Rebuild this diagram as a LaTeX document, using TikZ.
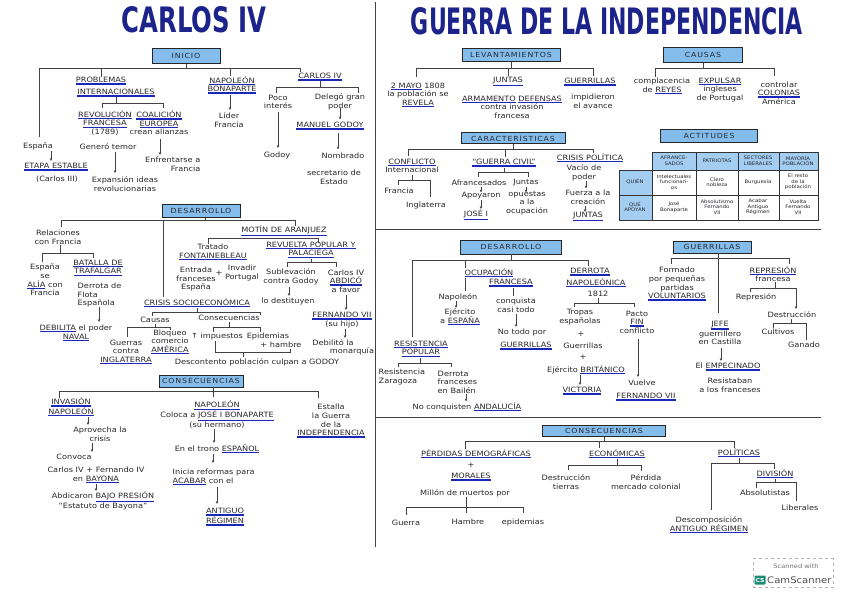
\documentclass[tikz,border=0pt]{standalone}
\usepackage{fontspec}
\setmainfont{DejaVu Sans}[FakeStretch=1.12]
\usetikzlibrary{arrows.meta}
\definecolor{ink}{RGB}{40,40,45}
\definecolor{ublue}{RGB}{25,40,185}
\definecolor{tblue}{RGB}{28,36,140}
\definecolor{boxblue}{RGB}{132,188,236}
\definecolor{lnc}{RGB}{65,65,70}
\definecolor{csgreen}{RGB}{25,140,115}
\newsavebox\ulbx
\newcommand\blu[1]{\sbox\ulbx{#1}\vtop{\hbox{\usebox\ulbx}\nointerlineskip\kern0.6pt\hbox{\color{ublue}\rule{\wd\ulbx}{1.4pt}}}}
\tikzset{
 t/.style={font=\fontsize{7.3}{8.6}\selectfont, text=ink, inner sep=0.5pt, align=center},
 hdr/.style={draw=black!85, line width=0.7pt, fill=boxblue, font=\fontsize{7}{8}\selectfont\addfontfeature{LetterSpace=12}, text=ink, inner sep=1pt},
 ln/.style={draw=lnc, line width=0.6pt},
 ar/.style={ln, -{Stealth[length=3pt,width=2.6pt]}},
 tb/.style={font=\fontsize{4.8}{5.5}\selectfont, text=ink, align=center, inner sep=0pt},
 dv/.style={draw=lnc, line width=0.8pt},
}
\begin{document}
\begin{tikzpicture}[x=1pt,y=-1pt]
\useasboundingbox (0,0) rectangle (848,599);
\fill[white] (0,0) rectangle (848,599);
% titles
\node[inner sep=0, text=tblue] (t1) at (194,20) {\resizebox{145pt}{26pt}{\bfseries CARLOS IV}};
\node[inner sep=0, text=tblue] (t2) at (607,21) {\resizebox{392pt}{27pt}{\bfseries GUERRA DE LA INDEPENDENCIA}};
% dividers
\draw[dv] (375,2) -- (375,547);
\draw[dv] (376,229) -- (821,229);
\draw[dv] (376,417) -- (821,417);

% ===== LEFT: INICIO =====
\node[hdr, minimum width=68pt, minimum height=15pt] (inicio) at (186,56) {INICIO};
\node[t] (prob1) at (101,81) {\blu{PROBLEMAS}};
\node[t] (prob2) at (116,93) {\blu{INTERNACIONALES}};
\node[t] (revf) at (105,123) {\blu{REVOLUCIÓN}\\\blu{FRANCESA}\\(1789)};
\node[t] (coal) at (159,123) {\blu{COALICIÓN}\\\blu{EUROPEA}\\crean alianzas};
\node[t] (napb) at (232,85) {\blu{NAPOLEÓN}\\\blu{BONAPARTE}};
\node[t] (lider) at (229,120) {Líder\\Francia};
\node[t] (c4) at (320,77) {\blu{CARLOS IV}};
\node[t] (poco) at (278,102) {Poco\\interés};
\node[t] (deleg) at (340,102) {Delegó gran\\poder};
\node[t] (mgod) at (330,126) {\blu{MANUEL GODOY}};
\node[t] (godoy) at (277,155) {Godoy};
\node[t] (nomb) at (343,156) {Nombrado};
\node[t] (secr) at (334,177) {secretario de\\Estado};
\node[t] (esp) at (38,146) {España};
\node[t] (etapa) at (56,167) {\blu{ETAPA ESTABLE}};
\node[t] (c3) at (57,179) {(Carlos III)};
\node[t] (temor) at (108,147) {Generó temor};
\node[t] (expa) at (125,184) {Expansión ideas\\revolucionarias};
\node[t, anchor=east, align=right] (enfr) at (201,164) {Enfrentarse a\\Francia};

\draw[ln] (inicio.south) -- (186,68);
\draw[ln] (39,137) -- (39,68) -- (300,68) -- (300,72);
\draw[ln] (101,68) -- (prob1.north);
\draw[ln] (230,68) -- (230,76);
\draw[ln] (prob2.south) -- (116,103);
\draw[ln] (102,108) -- (102,103) -- (163,103) -- (163,108);
\draw[ar] (230,95) -- (230,110);
\draw[ln] (c4.south) -- (320,87);
\draw[ln] (276,93) -- (276,87) -- (358,87) -- (358,93);
\draw[ar] (278,112) -- (278,148);
\draw[ar] (340,108) -- (340,119.5);
\draw[ar] (338,133) -- (338,149.5);
\draw[ar] (51,151) -- (51,161);
\draw[ar] (115,152) -- (115,173);
\draw[ar] (160,139) -- (160,155);

% ===== LEFT: DESARROLLO =====
\node[hdr, minimum width=78pt, minimum height=13pt] (desL) at (201,211) {DESARROLLO};
\draw[ln] (205,217.5) -- (205,220);
\draw[ln] (61,227) -- (61,220) -- (295,220) -- (295,226);
\draw[ln] (163,220) -- (163,297);
\node[t] (rel) at (58,237) {Relaciones\\con Francia};
\draw[ln] (60,245) -- (60,253);
\draw[ln] (42,262) -- (42,253) -- (93,253) -- (93,258);
\node[t] (espalia) at (45,280) {España\\se\\\blu{ALÍA} con\\Francia};
\node[t] (traf) at (98,268) {\blu{BATALLA DE}\\\blu{TRAFALGAR}};
\node[t, anchor=west, align=left] (derrf) at (77,295) {Derrota de\\Flota\\Española};
\draw[ar] (99,307) -- (99,322);
\node[t] (debil) at (76,333) {\blu{DEBILITA} el poder\\\blu{NAVAL}};

\node[t] (motin) at (284,231) {\blu{MOTÍN DE ARANJUEZ}};
\draw[ln] (208,244) -- (208,238) -- (318,238) -- (318,243);
\node[t] (trat) at (213,252) {Tratado\\\blu{FONTAINEBLEAU}};
\node[t] (entr) at (196,279) {Entrada\\franceses\\España};
\node[t] (plus1) at (219,273) {+};
\node[t] (invad) at (242,273) {Invadir\\Portugal};
\node[t] (revu) at (311,250) {\blu{REVUELTA POPULAR Y}\\\blu{PALACIEGA}};
\draw[ln] (311,259) -- (311,262);
\draw[ln] (287,267) -- (287,262) -- (336,262) -- (336,267);
\node[t] (subl) at (291,277) {Sublevación\\contra Godoy};
\node[t] (abd) at (346,281) {Carlos IV\\\blu{ABDICÓ}\\a favor};
\draw[ar] (289,287) -- (289,296);
\node[t] (dest) at (288,301) {lo destituyen};
\draw[ar] (346,295) -- (346,310);
\node[t] (fern) at (342,320) {\blu{FERNANDO VII}\\(su hijo)};
\draw[ar] (345,329) -- (345,338);
\node[t] (debm1) at (333,343) {Debilitó la};
\node[t] (debm2) at (352,351) {monarquía};

\node[t] (crisis) at (197,303) {\blu{CRISIS SOCIOECONÓMICA}};
\draw[ln] (197,308) -- (197,312);
\draw[ln] (152,316) -- (152,312) -- (260,312) -- (260,315);
\node[t] (causas) at (155,320) {Causas};
\draw[ln] (155,324) -- (155,327);
\draw[ln] (127,337) -- (127,327) -- (170,327) -- (170,330);
\node[t] (guerras) at (126,352) {Guerras\\contra\\\blu{INGLATERRA}};
\node[t] (bloq) at (170,342) {Bloqueo\\comercio\\\blu{AMÉRICA}};
\node[t] (consec) at (229,318) {Consecuencias};
\draw[ln] (229,322) -- (229,327);
\draw[ln] (213,332) -- (213,327) -- (260,327) -- (260,332);
\node[t] (imp) at (217,336) {↑ impuestos};
\node[t] (epi1) at (268,336) {Epidemias};
\node[t] (epi2) at (281,345) {+ hambre};
\draw[ln] (215,341) -- (215,352) -- (290,352) -- (290,349);
\draw[ln] (243,352) -- (243,357);
\node[t] (desc) at (257,362) {Descontento población culpan a GODOY};

% ===== LEFT: CONSECUENCIAS =====
\node[hdr, minimum width=84pt, minimum height=12pt] (consL) at (201,381) {CONSECUENCIAS};
\draw[ln] (213,387) -- (213,397);
\draw[ln] (59,398) -- (59,391) -- (318,391) -- (318,398);
\node[t] (inv) at (71,407) {\blu{INVASIÓN}\\\blu{NAPOLEÓN}};
\draw[ar] (88,417) -- (88,425);
\node[t] (apro) at (100,434) {Aprovecha la\\crisis};
\draw[ar] (92,443) -- (92,452);
\node[t] (conv) at (74,457) {Convoca};
\node[t] (cf) at (96,475) {Carlos IV + Fernando IV\\en \blu{BAYONA}};
\draw[ar] (96,484) -- (96,491);
\node[t] (abdp) at (103,501) {Abdicaron \blu{BAJO PRESIÓN}\\“Estatuto de Bayona”};
\node[t] (nap2) at (217,415) {\blu{NAPOLEÓN}\\Coloca a \blu{JOSÉ I BONAPARTE}\\(su hermano)};
\draw[ar] (214,429) -- (214,443);
\node[t] (trono) at (217,449) {En el trono \blu{ESPAÑOL}};
\draw[ar] (213,454) -- (213,463);
\node[t, anchor=west, align=left] (inic) at (172,477) {Inicia reformas para\\\blu{ACABAR} con el};
\draw[ar] (217,487) -- (217,504);
\node[t] (antL) at (225,517) {\blu{ANTIGUO}\\\blu{RÉGIMEN}};
\node[t] (estalla) at (331,421) {Estalla\\la Guerra\\de la\\\blu{INDEPENDENCIA}};

% ===== RIGHT: LEVANTAMIENTOS =====
\node[hdr, minimum width=98pt, minimum height=13pt] (lev) at (511,55) {LEVANTAMIENTOS};
\draw[ln] (lev.south) -- (511,68);
\draw[ln] (416,77) -- (416,68) -- (593,68) -- (593,76);
\draw[ln] (508,68) -- (508,76);
\node[t] (mayo) at (418,95) {\blu{2 MAYO} 1808\\la población se\\\blu{REVELA}};
\node[t] (juntas) at (508,82) {\blu{JUNTAS}};
\node[t] (arm) at (512,107) {\blu{ARMAMENTO} \blu{DEFENSAS}\\contra invasión\\francesa};
\node[t] (guer1) at (590,82) {\blu{GUERRILLAS}};
\node[t] (impid) at (593,101) {impidieron\\el avance};

\node[hdr, minimum width=79pt, minimum height=15pt] (causasR) at (703,55) {CAUSAS};
\draw[ln] (causasR.south) -- (703,68);
\draw[ln] (655,77) -- (655,68) -- (774,68) -- (774,76);
\node[t] (compl) at (662,86) {complacencia\\de \blu{REYES}};
\node[t] (expul) at (720,90) {\blu{EXPULSAR}\\ingleses\\de Portugal};
\node[t] (contr) at (779,93) {controlar\\\blu{COLONIAS}\\América};

% ===== RIGHT: CARACTERISTICAS =====
\node[hdr, minimum width=104pt, minimum height=11pt] (car) at (513,138) {CARACTERÍSTICAS};
\draw[ln] (car.south) -- (513,149);
\draw[ln] (408,156) -- (408,149) -- (593,149) -- (593,153);
\draw[ln] (505,149) -- (505,157);
\node[t] (confl) at (412,166) {\blu{CONFLICTO}\\Internacional};
\draw[ln] (412,175) -- (412,180);
\draw[ln] (398,185) -- (398,180) -- (430,180) -- (430,197);
\node[t] (fr) at (399,191) {Francia};
\node[t] (ingl) at (426,205) {Inglaterra};
\node[t] (gc) at (504,163) {\blu{“GUERRA CIVIL”}};
\draw[ln] (504,168) -- (504,172);
\draw[ln] (478,177) -- (478,172) -- (528,172) -- (528,177);
\node[t] (afr) at (479,183) {Afrancesados};
\draw[ar] (481,187) -- (481,192.5);
\node[t] (apo) at (481,196) {Apoyaron};
\draw[ar] (481,200) -- (481,209);
\node[t] (josei) at (476,215) {\blu{JOSÉ I}};
\node[t] (junt2) at (526,183) {Juntas};
\draw[ar] (526,187) -- (526,192.5);
\node[t] (opu) at (527,203) {opuestas\\a la\\ocupación};
\node[t] (crisP) at (590,158) {\blu{CRISIS POLÍTICA}};
\node[t] (vac) at (584,173) {Vacío de\\poder};
\draw[ar] (586,181) -- (586,188.5);
\node[t] (fuer) at (588,197) {Fuerza a la\\creación};
\draw[ar] (585,206) -- (585,212);
\node[t] (junt3) at (588,217) {\blu{JUNTAS}};

% ACTITUDES table
\node[hdr, minimum width=97pt, minimum height=13pt] (act) at (709,136) {ACTITUDES};
\fill[boxblue!75] (652,152) rectangle (818,170);
\fill[boxblue!75] (619,170) rectangle (652,220);
\draw[black!80, line width=0.6pt] (652,152) rectangle (818,220);
\draw[black!80, line width=0.6pt] (619,170) rectangle (652,220);
\draw[black!80, line width=0.6pt] (619,170) -- (818,170) (619,195) -- (818,195)
  (696,152) -- (696,220) (738,152) -- (738,220) (779,152) -- (779,220);
\node[tb] (h1) at (674,161) {AFRANCE-\\SADOS};
\node[tb] (h2) at (717,161) {PATRIOTAS};
\node[tb] (h3) at (758,161) {SECTORES\\LIBERALES};
\node[tb] (h4) at (798,161) {MAYORÍA\\POBLACIÓN};
\node[tb] (r1) at (635,182) {QUIÉN};
\node[tb] (r2) at (635,207) {QUÉ\\APOYAN};
\node[tb] (c11) at (674,182) {Intelectuales\\funcionari-\\os};
\node[tb] (c12) at (717,182) {Clero\\nobleza};
\node[tb] (c13) at (758,182) {Burguesía};
\node[tb] (c14) at (798,182) {El resto\\de la\\población};
\node[tb] (c21) at (674,207) {José\\Bonaparte};
\node[tb] (c22) at (717,207) {Absolutismo\\Fernando\\VII};
\node[tb] (c23) at (758,207) {Acabar\\Antiguo\\Régimen};
\node[tb] (c24) at (798,207) {Vuelta\\Fernando\\VII};

% ===== RIGHT: DESARROLLO =====
\node[hdr, minimum width=101pt, minimum height=14pt] (desR) at (511,247) {DESARROLLO};
\draw[ln] (desR.south) -- (511,260);
\draw[ln] (412,337) -- (412,260) -- (588,260) -- (588,266);
\draw[ln] (465,260) -- (465,268);
\node[t] (oc1) at (489,273) {\blu{OCUPACIÓN}};
\node[t] (oc2) at (511,283) {\blu{FRANCESA}};
\draw[ln] (465,278) -- (465,291);
\node[t] (napo) at (458,297) {Napoleón};
\draw[ln] (513,288) -- (513,296);
\node[t] (conq) at (516,305) {conquista\\casi todo};
\draw[ar] (456,301) -- (456,308);
\node[t] (ejer) at (460,317) {Ejército\\a \blu{ESPAÑA}};
\draw[ar] (516,314) -- (516,327);
\node[t] (notodo) at (522,332) {No todo por};
\node[t] (guer2) at (526,346) {\blu{GUERRILLAS}};
\node[t] (resist) at (421,349) {\blu{RESISTENCIA}\\\blu{POPULAR}};
\draw[ln] (420,358) -- (420,363);
\draw[ln] (398,367) -- (398,363) -- (451,363) -- (451,367);
\node[t, anchor=west, align=left] (zara) at (378,377) {Resistencia\\Zaragoza};
\node[t, anchor=west, align=left] (bail) at (437,382) {Derrota\\franceses\\en Bailén};
\draw[ar] (466,394) -- (466,401.5);
\node[t] (andal) at (467,407) {No conquisten \blu{ANDALUCÍA}};
\node[t] (der1) at (590,272) {\blu{DERROTA}};
\node[t] (der2) at (596,283) {\blu{NAPOLEÓNICA}};
\node[t] (der3) at (598,294) {1812};
\draw[ln] (598,298) -- (598,303);
\draw[ln] (574,307) -- (574,303) -- (634,303) -- (634,307);
\node[t] (trop) at (580,317) {Tropas\\españolas};
\node[t] (pl2) at (581,334) {+};
\node[t] (guerril) at (583,346) {Guerrillas};
\node[t] (pl3) at (583,357) {+};
\node[t] (ejb) at (586,370) {Ejército \blu{BRITÁNICO}};
\draw[ar] (580,375) -- (580,385);
\node[t] (vict) at (582,391) {\blu{VICTORIA}};
\node[t] (pacto) at (637,322) {Pacto\\\blu{FIN}\\conflicto};
\draw[ar] (638,339) -- (638,377);
\node[t] (vuelve) at (642,383) {Vuelve};
\node[t] (fern2) at (646,397) {\blu{FERNANDO VII}};

\node[hdr, minimum width=78pt, minimum height=12pt] (guerR) at (712,247) {GUERRILLAS};
\draw[ln] (671,264) -- (671,258) -- (789,258) -- (789,264);
\draw[ln] (718,253) -- (718,313);
\node[t] (form) at (677,284) {Formado\\por pequeñas\\partidas\\\blu{VOLUNTARIOS}};
\node[t] (repr) at (773,274) {\blu{REPRESIÓN}\\francesa};
\draw[ln] (775,282) -- (775,288);
\draw[ln] (750,292) -- (750,288) -- (796,288);
\draw[ar] (796,288) -- (796,309);
\node[t] (repr2) at (756,297) {Represión};
\node[t] (destr) at (792,315) {Destrucción};
\draw[ln] (773,328) -- (773,323) -- (806,323) -- (806,340);
\draw[ln] (791,319) -- (791,323);
\node[t] (cult) at (778,332) {Cultivos};
\node[t] (gan) at (804,345) {Ganado};
\node[t] (jefe) at (720,333) {\blu{JEFE}\\guerrillero\\en Castilla};
\draw[ar] (721,348) -- (721,361);
\node[t] (emp) at (728,367) {El \blu{EMPECINADO}};
\node[t] (resi) at (730,385) {Resistaban\\a los franceses};

% ===== RIGHT: CONSECUENCIAS =====
\node[hdr, minimum width=123pt, minimum height=11pt] (consR) at (604,431) {CONSECUENCIAS};
\draw[ln] (consR.south) -- (604,441);
\draw[ln] (465,449) -- (465,441) -- (734,441) -- (734,448);
\draw[ln] (599,441) -- (599,448);
\node[t] (perd) at (476,454) {\blu{PÉRDIDAS DEMOGRÁFICAS}};
\node[t] (plus4) at (471,465) {+};
\node[t] (mor) at (471,477) {\blu{MORALES}};
\node[t] (mill) at (465,493) {Millón de muertos por};
\draw[ln] (466,497) -- (466,513);
\draw[ln] (406,515) -- (406,507) -- (523,507) -- (523,513);
\node[t] (guerra) at (406,523) {Guerra};
\node[t] (hamb) at (468,522) {Hambre};
\node[t] (epid) at (523,522) {epidemias};
\node[t] (econ) at (617,454) {\blu{ECONÓMICAS}};
\draw[ln] (617,459) -- (617,465);
\draw[ln] (568,470) -- (568,465) -- (641,465) -- (641,471);
\node[t] (destt) at (566,482) {Destrucción\\tierras};
\node[t] (perdm) at (646,482) {Pérdida\\mercado colonial};
\node[t] (pol) at (739,453) {\blu{POLÍTICAS}};
\draw[ln] (739,458) -- (739,463);
\draw[ln] (711,510) -- (711,463) -- (774,463) -- (774,469);
\node[t] (div) at (775,474) {\blu{DIVISIÓN}};
\draw[ln] (775,479) -- (775,482);
\draw[ln] (756,488) -- (756,482) -- (796,482) -- (796,501);
\node[t] (absol) at (765,493) {Absolutistas};
\node[t] (lib) at (800,508) {Liberales};
\node[t] (desco) at (709,525) {Descomposición\\\blu{ANTIGUO RÉGIMEN}};

% CamScanner mark
\node[draw=black!30, dashed, fill=white, minimum width=80pt, minimum height=29pt, inner sep=0] (cs) at (793,573) {};
\node[font=\fontsize{6}{7}\selectfont, text=black!55, inner sep=0] (csl1) at (796,566) {Scanned with};
\node[inner sep=0] (csl2) at (793,580) {\tikz[baseline=-3pt]\node[fill=csgreen, rounded corners=1pt, text=white, font=\fontsize{5.5}{6}\bfseries, inner sep=1pt, minimum size=9pt]{CS};\,{\fontsize{9}{10}\selectfont\color{black!70}CamScanner}};
\end{tikzpicture}
\end{document}
